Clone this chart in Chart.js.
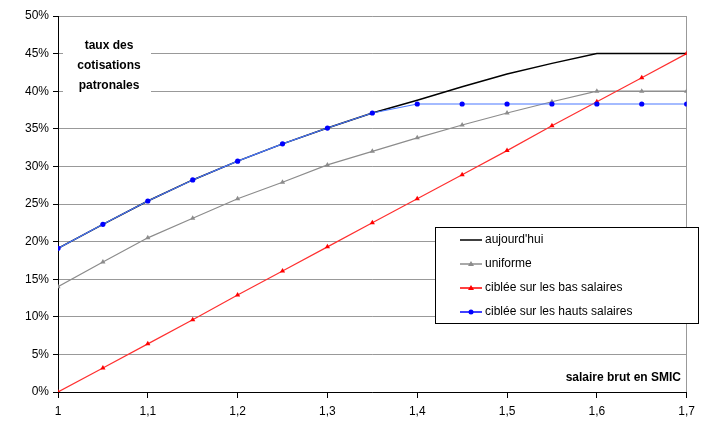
<!DOCTYPE html>
<html>
<head>
<meta charset="utf-8">
<script src="https://cdn.jsdelivr.net/npm/chart.js@4/dist/chart.umd.min.js"></script>
<style>
  html, body { margin: 0; padding: 0; background: #fff; }
  #wrap { width: 701px; height: 426px; }
</style>
</head>
<body>
<div id="wrap"><canvas id="c" width="701" height="426"></canvas></div>
<script>
// salaire brut en SMIC
var salaires = [1, 1.05, 1.1, 1.15, 1.2, 1.25, 1.3, 1.35, 1.4, 1.45, 1.5, 1.55, 1.6, 1.65, 1.7];
var aujourdhui = [19.1, 22.3, 25.4, 28.2, 30.7, 33.0, 35.1, 37.1, 38.8, 40.6, 42.3, 43.7, 45, 45, 45];
var uniforme = [14.0, 17.3, 20.5, 23.1, 25.7, 27.9, 30.2, 32.0, 33.8, 35.5, 37.1, 38.6, 40.0, 40.0, 40.0];
var basSalaires = [0, 3.2, 6.4, 9.6, 12.9, 16.1, 19.3, 22.5, 25.7, 28.9, 32.1, 35.4, 38.6, 41.8, 45];
var hautsSalaires = [19.1, 22.3, 25.4, 28.2, 30.7, 33.0, 35.1, 37.1, 38.3, 38.3, 38.3, 38.3, 38.3, 38.3, 38.3];

var seriesNames = ["aujourd'hui", 'uniforme', 'ciblée sur les bas salaires', 'ciblée sur les hauts salaires'];
var yTitleLines = ['taux des', 'cotisations', 'patronales'];
var xTitle = 'salaire brut en SMIC';

function pts(ys) {
  var out = [];
  for (var i = 0; i < salaires.length; i++) out.push({ x: salaires[i], y: ys[i] });
  return out;
}

var FONT = '"Liberation Sans", Arial, sans-serif';

var styles = [
  { color: '#000000', width: 1.5, point: 'circle', radius: 0 },
  { color: '#8c8c8c', width: 1.2, point: 'triangle', radius: 3 },
  { color: '#ff0000', width: 1.2, point: 'triangle', radius: 3 },
  { color: '#0000ff', width: 1.2, point: 'circle', radius: 2.6 }
];
var lineColors = ['#000000', '#8c8c8c', '#ff3030', '#4a78ff'];

var datasets = [aujourdhui, uniforme, basSalaires, hautsSalaires].map(function(ys, i) {
  return {
    label: seriesNames[i],
    data: pts(ys),
    borderColor: lineColors[i],
    backgroundColor: styles[i].color,
    pointBackgroundColor: styles[i].color,
    pointBorderColor: styles[i].color,
    pointBorderWidth: 0,
    borderWidth: styles[i].width,
    pointStyle: styles[i].point,
    pointRadius: styles[i].radius,
    tension: 0,
    order: 4 - i
  };
});

var annotations = {
  id: 'annotations',
  afterDatasetsDraw: function(chart) {
    var ctx = chart.ctx;
    ctx.save();
    // titre de l'axe y, fond blanc sur les grilles
    ctx.fillStyle = '#fff';
    ctx.fillRect(63, 34, 88, 62);
    ctx.fillStyle = '#000';
    ctx.font = 'bold 12px ' + FONT;
    ctx.textAlign = 'center';
    ctx.textBaseline = 'middle';
    for (var i = 0; i < yTitleLines.length; i++) ctx.fillText(yTitleLines[i], 109, 46 + i * 20);
    ctx.textAlign = 'right';
    ctx.fillText(xTitle, 681, 378);

    // légende
    var bx = 435, by = 227, bw = 263, bh = 96;
    ctx.fillStyle = '#fff';
    ctx.fillRect(bx, by, bw, bh);
    ctx.strokeStyle = '#000';
    ctx.lineWidth = 1;
    ctx.strokeRect(bx + 0.5, by + 0.5, bw, bh);
    ctx.font = '12px ' + FONT;
    ctx.textAlign = 'left';
    for (var k = 0; k < seriesNames.length; k++) {
      var ly = 240 + k * 24;
      ctx.strokeStyle = lineColors[k] === '#8c8c8c' ? '#8c8c8c' : styles[k].color;
      ctx.lineWidth = 1.5;
      ctx.beginPath();
      ctx.moveTo(460, ly);
      ctx.lineTo(482, ly);
      ctx.stroke();
      if (styles[k].radius > 0) {
        ctx.fillStyle = styles[k].color;
        ctx.beginPath();
        if (styles[k].point === 'triangle') {
          ctx.moveTo(471, ly - 3); ctx.lineTo(474, ly + 2); ctx.lineTo(468, ly + 2);
        } else {
          ctx.arc(471, ly, 2.5, 0, Math.PI * 2);
        }
        ctx.fill();
      }
      ctx.fillStyle = '#000';
      ctx.fillText(seriesNames[k], 485, ly);
    }
    ctx.restore();
  }
};

new Chart(document.getElementById('c').getContext('2d'), {
  type: 'line',
  data: { datasets: datasets },
  options: {
    responsive: false,
    animation: false,
    layout: { padding: { top: 16, right: 11, left: 0, bottom: 0 } },
    plugins: { legend: { display: false }, tooltip: { enabled: false } },
    scales: {
      x: {
        type: 'linear',
        min: 1,
        max: 1.7,
        afterFit: function(s) { s.height = 34; },
        afterBuildTicks: function(s) {
          s.ticks = [1, 1.1, 1.2, 1.3, 1.4, 1.5, 1.6, 1.7].map(function(v) { return { value: v }; });
        },
        ticks: {
          color: '#000',
          font: { family: FONT, size: 12 },
          padding: 6,
          maxRotation: 0,
          callback: function(v) { return String(Math.round(v * 10) / 10).replace('.', ','); }
        },
        grid: {
          color: function(c) { return c.tick && Math.abs(c.tick.value - 1.7) < 1e-6 ? '#999' : 'rgba(0,0,0,0)'; },
          tickColor: '#000',
          tickLength: 6,
          lineWidth: 1
        },
        border: { color: '#000', width: 1 }
      },
      y: {
        min: 0,
        max: 50,
        afterFit: function(s) { s.width = 58; },
        ticks: {
          stepSize: 5,
          color: '#000',
          font: { family: FONT, size: 12 },
          padding: 4,
          callback: function(v) { return v + '%'; }
        },
        grid: { color: '#999', tickColor: '#000', tickLength: 5, lineWidth: 1 },
        border: { color: '#000', width: 1 }
      }
    }
  },
  plugins: [annotations]
});
</script>
</body>
</html>
